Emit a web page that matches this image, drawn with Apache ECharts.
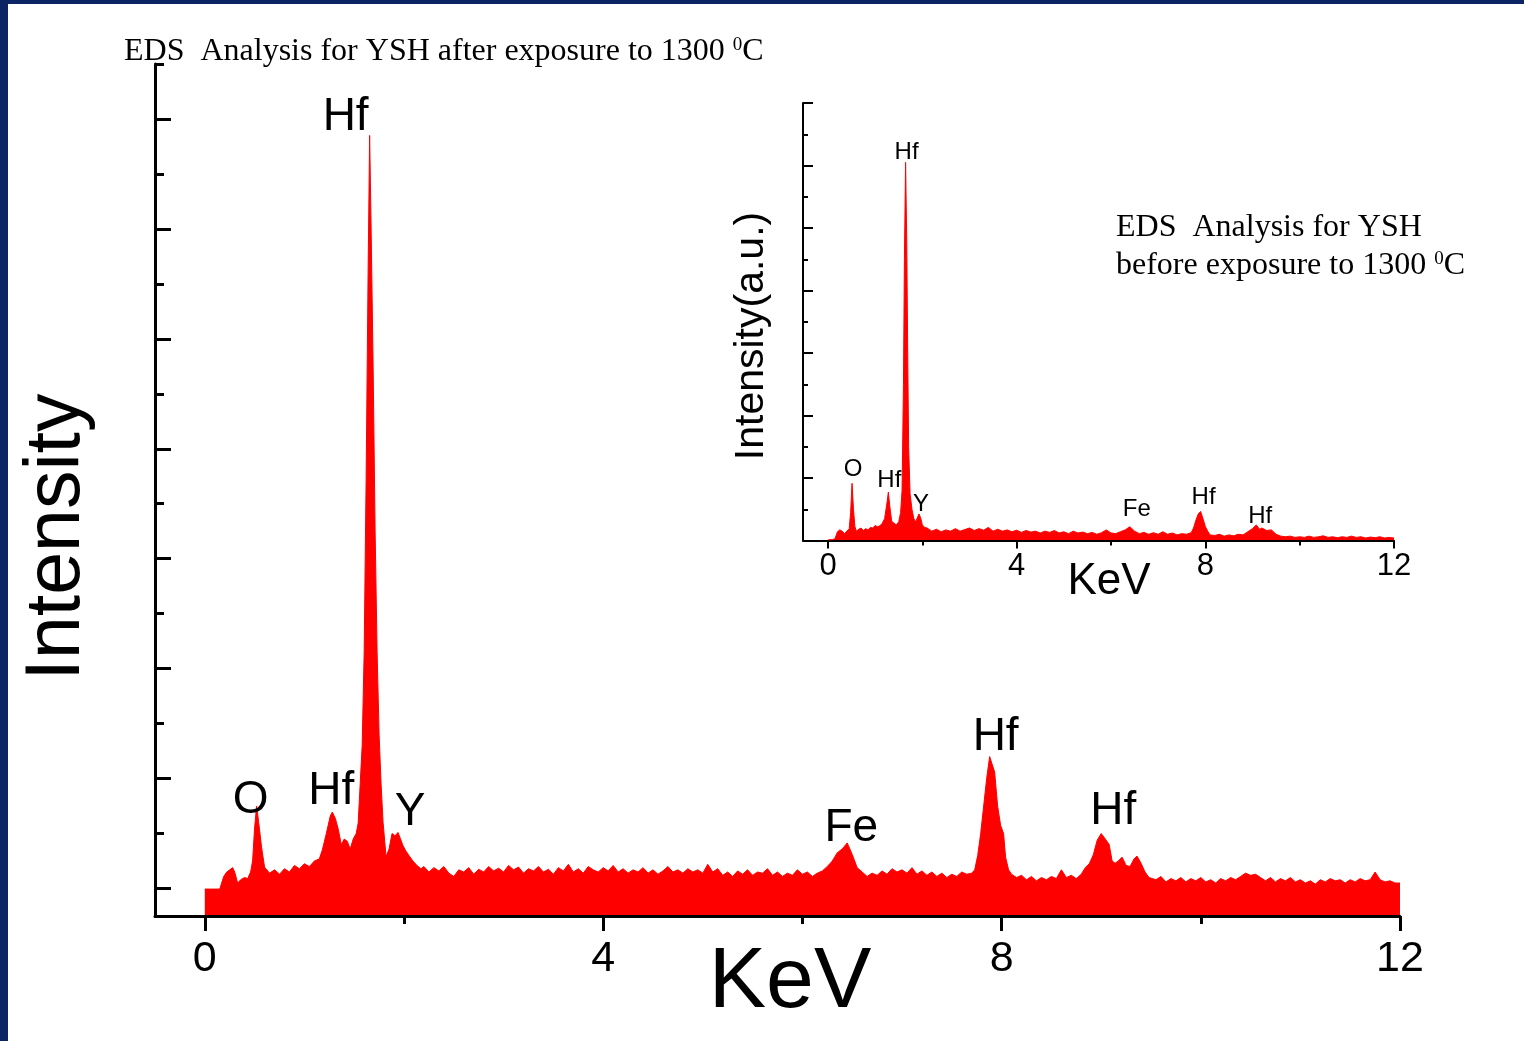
<!DOCTYPE html>
<html>
<head>
<meta charset="utf-8">
<script src="https://cdn.jsdelivr.net/npm/echarts@6/dist/echarts.min.js"></script>
<style>
  html, body { margin: 0; padding: 0; background: #ffffff; }
  #chart { width: 1524px; height: 1041px; }
</style>
</head>
<body>
<div id="chart"></div>
<script>
// EDS spectrum of YSH after exposure to 1300 °C: [energy keV, counts]
const afterSpectrum = [
  [0,49],[0.05,49],[0.10,49],[0.15,49],[0.17,49],[0.19,72],[0.22,80],[0.25,84],[0.28,88],[0.30,80],
  [0.33,60],[0.36,66],[0.40,70],[0.43,68],[0.46,80],[0.48,100],[0.50,160],[0.52,200],[0.54,172],[0.57,125],
  [0.60,89],[0.65,78],[0.70,84],[0.75,76],[0.80,86],[0.85,80],[0.90,92],[0.95,86],[1.00,95],[1.05,90],
  [1.10,100],[1.15,104],[1.18,120],[1.22,150],[1.26,182],[1.28,189],[1.31,178],[1.34,158],[1.37,130],[1.40,140],
  [1.43,136],[1.46,122],[1.49,140],[1.52,150],[1.54,169],[1.56,240],[1.58,310],[1.60,480],[1.62,800],[1.64,1180],
  [1.655,1420],[1.67,1250],[1.69,1000],[1.71,700],[1.73,480],[1.75,330],[1.77,240],[1.79,170],[1.82,108],[1.85,122],
  [1.88,150],[1.91,146],[1.94,152],[1.96,155],[1.99,128],[2.02,118],[2.05,110],[2.09,100],[2.13,92],[2.17,86],
  [2.20,90],[2.25,80],[2.30,88],[2.35,82],[2.40,90],[2.45,78],[2.50,72],[2.55,84],[2.60,80],[2.65,88],
  [2.70,76],[2.75,85],[2.80,80],[2.85,90],[2.90,82],[2.95,87],[3.00,80],[3.05,92],[3.10,84],[3.15,89],
  [3.20,78],[3.25,86],[3.30,82],[3.35,90],[3.40,80],[3.45,85],[3.50,76],[3.55,88],[3.60,82],[3.65,94],
  [3.70,80],[3.75,86],[3.80,78],[3.85,90],[3.90,84],[3.95,80],[4.00,88],[4.05,82],[4.10,92],[4.15,80],
  [4.20,86],[4.25,78],[4.30,84],[4.35,80],[4.40,88],[4.45,78],[4.50,84],[4.55,76],[4.60,82],[4.65,90],
  [4.70,80],[4.75,84],[4.80,78],[4.85,86],[4.90,80],[4.95,84],[5.00,78],[5.05,94],[5.10,80],[5.15,86],
  [5.20,74],[5.25,80],[5.30,72],[5.35,82],[5.40,76],[5.45,84],[5.50,74],[5.55,80],[5.60,78],[5.65,86],
  [5.70,74],[5.75,80],[5.80,72],[5.85,78],[5.90,74],[5.95,84],[6.00,76],[6.05,80],[6.10,72],[6.15,78],
  [6.20,82],[6.25,90],[6.30,100],[6.35,115],[6.40,122],[6.45,133],[6.50,112],[6.55,88],[6.60,80],[6.65,72],
  [6.70,78],[6.75,74],[6.80,82],[6.85,76],[6.90,86],[6.95,80],[7.00,84],[7.05,78],[7.10,88],[7.15,76],
  [7.20,82],[7.25,74],[7.30,80],[7.35,72],[7.40,78],[7.45,70],[7.50,76],[7.55,72],[7.60,80],[7.65,76],
  [7.70,78],[7.73,84],[7.76,110],[7.79,150],[7.82,200],[7.85,250],[7.88,290],[7.90,293],[7.93,262],[7.96,200],
  [7.99,165],[8.02,150],[8.04,107],[8.07,84],[8.10,76],[8.15,70],[8.20,74],[8.25,66],[8.30,72],[8.35,64],
  [8.40,70],[8.45,66],[8.50,72],[8.55,68],[8.60,84],[8.65,70],[8.70,74],[8.75,68],[8.80,76],[8.84,88],
  [8.88,95],[8.92,111],[8.96,138],[9.00,150],[9.02,153],[9.05,138],[9.08,130],[9.11,100],[9.14,96],[9.17,100],
  [9.21,107],[9.25,92],[9.29,90],[9.33,104],[9.36,109],[9.40,96],[9.44,80],[9.48,70],[9.55,66],[9.60,72],
  [9.65,62],[9.70,68],[9.75,64],[9.80,70],[9.85,62],[9.90,68],[9.95,64],[10.00,70],[10.05,62],[10.10,66],
  [10.15,60],[10.20,68],[10.25,64],[10.30,70],[10.35,66],[10.40,72],[10.45,78],[10.50,74],[10.55,76],[10.60,70],
  [10.65,64],[10.70,70],[10.75,62],[10.80,68],[10.85,64],[10.90,70],[10.95,62],[11.00,66],[11.05,60],[11.10,64],
  [11.15,58],[11.20,66],[11.25,62],[11.30,68],[11.35,64],[11.40,66],[11.45,60],[11.50,66],[11.55,62],[11.60,68],
  [11.65,64],[11.70,66],[11.75,80],[11.80,66],[11.85,62],[11.90,64],[11.95,60],[12.00,60]
];

// EDS spectrum of YSH before exposure: [energy keV, intensity a.u.]
const beforeSpectrum = [
  [0,0.02],[0.10,0.03],[0.15,0.06],[0.20,0.28],[0.25,0.34],[0.30,0.30],[0.35,0.22],[0.40,0.30],[0.45,0.38],[0.48,0.90],
  [0.51,1.83],[0.54,1.00],[0.57,0.45],[0.60,0.30],[0.65,0.36],[0.70,0.40],[0.75,0.32],[0.80,0.38],[0.85,0.34],[0.90,0.42],
  [0.95,0.40],[1.00,0.48],[1.05,0.44],[1.10,0.47],[1.15,0.55],[1.20,0.70],[1.25,1.20],[1.28,1.55],[1.31,1.10],[1.35,0.62],
  [1.40,0.55],[1.45,0.50],[1.50,0.60],[1.54,0.90],[1.57,1.60],[1.60,5.00],[1.62,9.00],[1.645,12.1],[1.67,9.50],[1.69,6.00],
  [1.71,3.00],[1.74,1.50],[1.78,1.00],[1.82,0.70],[1.86,0.60],[1.90,0.75],[1.93,0.85],[1.97,0.70],[2.00,0.50],[2.05,0.42],
  [2.10,0.40],[2.20,0.30],[2.30,0.36],[2.40,0.28],[2.50,0.34],[2.60,0.30],[2.70,0.38],[2.80,0.30],[2.90,0.35],[3.00,0.40],
  [3.10,0.32],[3.20,0.38],[3.30,0.33],[3.40,0.42],[3.50,0.30],[3.60,0.36],[3.70,0.30],[3.80,0.34],[3.90,0.28],[4.00,0.33],
  [4.10,0.26],[4.20,0.32],[4.30,0.27],[4.40,0.30],[4.50,0.24],[4.60,0.30],[4.70,0.26],[4.80,0.32],[4.90,0.24],[5.00,0.28],
  [5.10,0.22],[5.20,0.30],[5.30,0.24],[5.40,0.27],[5.50,0.22],[5.60,0.26],[5.70,0.20],[5.80,0.25],[5.90,0.34],[6.00,0.24],
  [6.10,0.22],[6.20,0.28],[6.30,0.34],[6.40,0.44],[6.50,0.30],[6.60,0.22],[6.70,0.26],[6.80,0.20],[6.90,0.25],[7.00,0.20],
  [7.10,0.28],[7.20,0.20],[7.30,0.24],[7.40,0.18],[7.50,0.22],[7.60,0.20],[7.70,0.25],[7.75,0.40],[7.80,0.65],[7.85,0.85],
  [7.90,0.93],[7.95,0.70],[8.00,0.45],[8.05,0.30],[8.10,0.18],[8.20,0.16],[8.30,0.20],[8.40,0.14],[8.50,0.18],[8.60,0.15],
  [8.70,0.20],[8.80,0.18],[8.90,0.28],[9.00,0.38],[9.08,0.50],[9.15,0.36],[9.20,0.40],[9.30,0.32],[9.40,0.34],[9.50,0.20],
  [9.60,0.14],[9.70,0.12],[9.80,0.14],[9.90,0.10],[10.00,0.12],[10.10,0.10],[10.20,0.14],[10.30,0.10],[10.40,0.12],[10.50,0.15],
  [10.60,0.10],[10.70,0.12],[10.80,0.09],[10.90,0.12],[11.00,0.10],[11.10,0.14],[11.20,0.10],[11.30,0.12],[11.40,0.08],[11.50,0.11],
  [11.60,0.09],[11.70,0.12],[11.80,0.08],[11.90,0.10],[12.00,0.08]
];

// Identified peaks
const afterPeakNames = ['O', 'Hf', 'Hf', 'Y', 'Fe', 'Hf', 'Hf'];
const afterPeakEnergies = [0.52, 1.28, 1.655, 1.96, 6.45, 7.90, 9.02];
const beforePeakNames = ['O', 'Hf', 'Hf', 'Y', 'Fe', 'Hf', 'Hf'];
const beforePeakEnergies = [0.51, 1.28, 1.645, 1.93, 6.40, 7.90, 9.08];

// Axis ticks
const energyMajorTicks = [0, 4, 8, 12];
const energyMinorTicks = [2, 6, 10];
const afterMajorTicks = [50, 250, 450, 650, 850, 1050, 1250, 1450];
const afterMinorTicks = [150, 350, 550, 750, 950, 1150, 1350, 1550];

// Label placement relative to each peak top (px)
const afterLabelOffsets = [[-6, -6], [-1, -21], [-24, -18], [10, -18], [4, -15], [4, -18], [10, -21]];
const beforeLabelOffsets = [[1, -14], [1, -12], [1, -10], [2, -10], [7, -17], [3, -14], [4, -9]];

const SANS = '"Liberation Sans", Arial, sans-serif';
const SERIF = '"Liberation Serif", "Times New Roman", serif';

function countAt(spectrum, keV) {
  const p = spectrum.find(d => d[0] === keV);
  return p ? p[1] : 0;
}

function peakMarks(spectrum, names, energies, offsets, size) {
  return {
    symbol: 'circle',
    symbolSize: 1,
    silent: true,
    itemStyle: { color: 'rgba(0,0,0,0)' },
    label: { show: true, position: 'inside', color: '#000', fontFamily: SANS, fontSize: size },
    data: names.map((n, i) => ({
      name: n,
      coord: [energies[i], countAt(spectrum, energies[i])],
      label: { formatter: n, offset: offsets[i] }
    }))
  };
}

function energyAxes(gridIndex, min, lineWidth, majorLen, minorLen, labelSize, margin) {
  return [
    {
      type: 'value', gridIndex, position: 'bottom', offset: 0, min, max: 12, z: 3,
      axisLine: { show: true, onZero: false, lineStyle: { color: '#000', width: lineWidth } },
      axisTick: { show: true, inside: false, length: majorLen, customValues: energyMajorTicks,
                  lineStyle: { color: '#000', width: lineWidth } },
      axisLabel: { show: true, customValues: energyMajorTicks, margin, color: '#000',
                   fontFamily: SANS, fontSize: labelSize },
      splitLine: { show: false }
    },
    {
      type: 'value', gridIndex, position: 'bottom', offset: 0, min, max: 12, z: 3,
      axisLine: { show: false, onZero: false },
      axisTick: { show: true, inside: false, length: minorLen, customValues: energyMinorTicks,
                  lineStyle: { color: '#000', width: lineWidth } },
      axisLabel: { show: false },
      splitLine: { show: false }
    }
  ];
}

const chart = echarts.init(document.getElementById('chart'), null, { renderer: 'canvas' });

const option = {
  backgroundColor: '#ffffff',
  animation: false,
  grid: [
    { left: 155, top: 64, width: 1245, height: 852 },
    { left: 803, top: 103, width: 591, height: 437.5 }
  ],
  xAxis: [
    ...energyAxes(0, -0.5, 3, 15, 8, 43, 22),
    ...energyAxes(1, -0.53, 2, 8, 5, 31, 10)
  ],
  yAxis: [
    {
      type: 'value', gridIndex: 0, position: 'left', offset: 0, min: 0, max: 1550, z: 3,
      axisLine: { show: true, onZero: false, lineStyle: { color: '#000', width: 3 } },
      axisTick: { show: true, inside: true, length: 16, customValues: afterMajorTicks,
                  lineStyle: { color: '#000', width: 3 } },
      axisLabel: { show: false },
      splitLine: { show: false }
    },
    {
      type: 'value', gridIndex: 0, position: 'left', offset: 0, min: 0, max: 1550, z: 3,
      axisLine: { show: false, onZero: false },
      axisTick: { show: true, inside: true, length: 9, customValues: afterMinorTicks,
                  lineStyle: { color: '#000', width: 3 } },
      axisLabel: { show: false },
      splitLine: { show: false }
    },
    {
      type: 'value', gridIndex: 1, position: 'left', offset: 0, min: 0, max: 14, interval: 2, z: 3,
      axisLine: { show: true, onZero: false, lineStyle: { color: '#000', width: 2 } },
      axisTick: { show: true, inside: true, length: 10, lineStyle: { color: '#000', width: 2 } },
      minorTick: { show: true, splitNumber: 2, length: 5, lineStyle: { color: '#000', width: 2 } },
      axisLabel: { show: false },
      splitLine: { show: false },
      minorSplitLine: { show: false }
    }
  ],
  series: [
    {
      type: 'line', xAxisIndex: 0, yAxisIndex: 0,
      data: afterSpectrum,
      symbol: 'none', sampling: null,
      lineStyle: { color: '#ff0000', width: 1 },
      areaStyle: { color: '#ff0000', opacity: 1 },
      markPoint: peakMarks(afterSpectrum, afterPeakNames, afterPeakEnergies, afterLabelOffsets, 46)
    },
    {
      type: 'line', xAxisIndex: 2, yAxisIndex: 2,
      data: beforeSpectrum,
      symbol: 'none', sampling: null,
      lineStyle: { color: '#ff0000', width: 1 },
      areaStyle: { color: '#ff0000', opacity: 1 },
      markPoint: peakMarks(beforeSpectrum, beforePeakNames, beforePeakEnergies, beforeLabelOffsets, 24)
    }
  ],
  graphic: [
    { type: 'rect', shape: { x: 0, y: 0, width: 8, height: 1041 }, style: { fill: '#0c2364' }, silent: true },
    { type: 'rect', shape: { x: 0, y: 0, width: 1524, height: 4 }, style: { fill: '#0c2364' }, silent: true },
    {
      type: 'text', x: 124, y: 36, silent: true,
      style: {
        text: '{n|EDS  Analysis for YSH after exposure to 1300 }{s|0}{n|C}',
        align: 'left', verticalAlign: 'top',
        rich: {
          n: { fontFamily: SERIF, fontSize: 32, fill: '#000' },
          s: { fontFamily: SERIF, fontSize: 19, fill: '#000', verticalAlign: 'top' }
        }
      }
    },
    {
      type: 'text', x: 1116, y: 212, silent: true,
      style: { text: 'EDS  Analysis for YSH', align: 'left', verticalAlign: 'top',
               fontFamily: SERIF, fontSize: 32, fill: '#000' }
    },
    {
      type: 'text', x: 1116, y: 250, silent: true,
      style: {
        text: '{n|before exposure to 1300 }{s|0}{n|C}',
        align: 'left', verticalAlign: 'top',
        rich: {
          n: { fontFamily: SERIF, fontSize: 32, fill: '#000' },
          s: { fontFamily: SERIF, fontSize: 19, fill: '#000', verticalAlign: 'top' }
        }
      }
    },
    {
      type: 'text', x: 58, y: 537, rotation: Math.PI / 2, silent: true,
      style: { text: 'Intensity', align: 'center', verticalAlign: 'middle',
               fontFamily: SANS, fontSize: 77, fill: '#000' }
    },
    {
      type: 'text', x: 790, y: 983, silent: true,
      style: { text: 'KeV', align: 'center', verticalAlign: 'middle',
               fontFamily: SANS, fontSize: 86, fill: '#000' }
    },
    {
      type: 'text', x: 752, y: 336, rotation: Math.PI / 2, silent: true,
      style: { text: 'Intensity(a.u.)', align: 'center', verticalAlign: 'middle',
               fontFamily: SANS, fontSize: 41, fill: '#000' }
    },
    {
      type: 'text', x: 1109, y: 582, silent: true,
      style: { text: 'KeV', align: 'center', verticalAlign: 'middle',
               fontFamily: SANS, fontSize: 44, fill: '#000' }
    }
  ]
};

chart.setOption(option);
</script>
</body>
</html>
